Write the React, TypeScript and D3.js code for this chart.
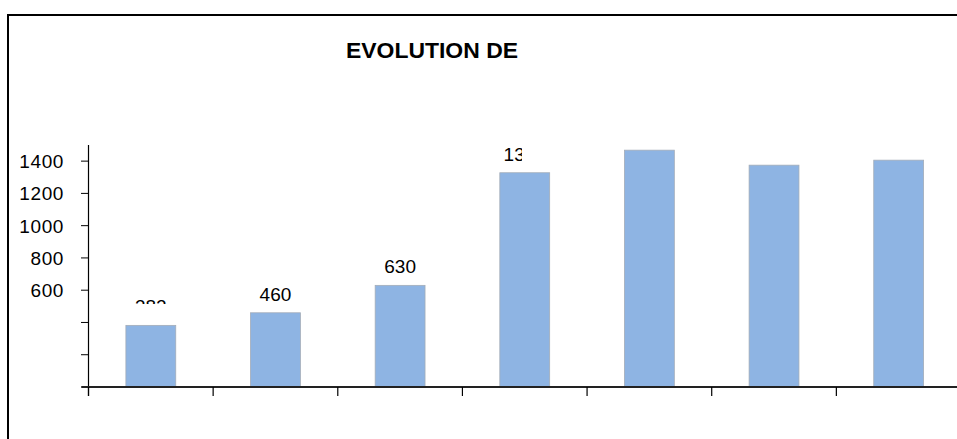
import React, { useEffect, useRef } from "react";
import * as d3 from "d3";

const categories = ["P1", "P2", "P3", "P4", "P5", "P6", "P7"];
const values = [382, 460, 630, 1328, 1468, 1375, 1406];
const valueLabels = ["382", "460", "630", "1328", "", "", ""];
const yTicks = [0, 200, 400, 600, 800, 1000, 1200, 1400];
const yTickLabels = ["", "", "", "600", "800", "1000", "1200", "1400"];
const title = "EVOLUTION DE";

const App = () => {
  const svgRef = useRef(null);
  const width = 957;
  const height = 439;
  const margin = { top: 145, right: -4, bottom: 52, left: 88.5 };

  useEffect(() => {
    const svgEl = d3.select(svgRef.current);
    svgEl.selectAll("*").remove();

    const defs = svgEl.append("defs");
    // the original render cuts some texts off
    defs.append("clipPath").attr("id", "clipRight")
      .append("rect").attr("x", 0).attr("y", 0).attr("width", 522).attr("height", height);
    defs.append("clipPath").attr("id", "clipLow")
      .append("rect").attr("x", 0).attr("y", 0).attr("width", width).attr("height", 304);

    svgEl.append("rect")
      .attr("width", width).attr("height", height).attr("fill", "#fff");

    // frame (only top and left edges are visible)
    svgEl.append("path")
      .attr("d", `M8,${height} V15 H${width}`)
      .attr("fill", "none")
      .attr("stroke", "#000")
      .attr("stroke-width", 2);

    svgEl.append("text")
      .attr("x", 346)
      .attr("y", 58)
      .attr("font-family", "Liberation Sans, Arial, sans-serif")
      .attr("font-weight", "bold")
      .attr("font-size", 21.5)
      .attr("textLength", 172)
      .attr("lengthAdjust", "spacingAndGlyphs")
      .attr("clip-path", "url(#clipRight)")
      .text(title);

    const x = d3
      .scaleBand()
      .domain(categories)
      .range([margin.left, width - margin.right])
      .paddingInner(0.6)
      .paddingOuter(0.3);

    const y = d3
      .scaleLinear()
      .domain([0, 1500])
      .range([height - margin.bottom, margin.top]);

    svgEl
      .append("g")
      .attr("class", "bars")
      .selectAll("rect")
      .data(values)
      .join("rect")
      .attr("x", (d, i) => x(categories[i]))
      .attr("y", (d) => y(d))
      .attr("height", (d) => y(0) - y(d))
      .attr("width", x.bandwidth())
      .attr("fill", "#8eb4e3")
      .attr("stroke", "#a3acb8")
      .attr("stroke-width", 0.8);

    svgEl
      .append("g")
      .attr("class", "labels")
      .selectAll("text")
      .data(values)
      .join("text")
      .attr("x", (d, i) => x(categories[i]) + x.bandwidth() / 2)
      .attr("y", (d) => y(d) - 12)
      .attr("text-anchor", "middle")
      .attr("font-family", "Liberation Sans, Arial, sans-serif")
      .attr("font-size", 19)
      .attr("fill", "#000")
      .attr("clip-path", (d, i) => (i === 0 ? "url(#clipLow)" : i === 3 ? "url(#clipRight)" : null))
      .text((d, i) => valueLabels[i]);

    // y axis
    const yAxis = svgEl.append("g").attr("class", "y-axis");
    yAxis.append("line")
      .attr("x1", margin.left).attr("x2", margin.left)
      .attr("y1", margin.top).attr("y2", y(0) + 9)
      .attr("stroke", "#000").attr("stroke-width", 1.2);
    yAxis.selectAll(".tick")
      .data(yTicks)
      .join("line")
      .attr("x1", margin.left - 7.5).attr("x2", margin.left)
      .attr("y1", (d) => y(d)).attr("y2", (d) => y(d))
      .attr("stroke", "#000").attr("stroke-width", 1);
    yAxis.selectAll("text")
      .data(yTicks)
      .join("text")
      .attr("x", 64)
      .attr("y", (d) => y(d) + 7)
      .attr("text-anchor", "end")
      .attr("font-family", "Liberation Sans, Arial, sans-serif")
      .attr("font-size", 19)
      .attr("letter-spacing", 0.6)
      .text((d, i) => yTickLabels[i]);

    // x axis
    const xAxis = svgEl.append("g").attr("class", "x-axis");
    xAxis.append("line")
      .attr("x1", margin.left - 7).attr("x2", width)
      .attr("y1", y(0)).attr("y2", y(0))
      .attr("stroke", "#222").attr("stroke-width", 1.8);
    const step = x.step();
    xAxis.selectAll(".tick")
      .data(categories)
      .join("line")
      .attr("x1", (d) => x(d) - step * 0.3)
      .attr("x2", (d) => x(d) - step * 0.3)
      .attr("y1", y(0)).attr("y2", y(0) + 9)
      .attr("stroke", "#000").attr("stroke-width", 1.2);
  }, []);

  return (
    <svg
      ref={svgRef}
      width={width}
      height={height}
      style={{ position: "absolute", left: 0, top: 0 }}
    />
  );
};

export default App;
